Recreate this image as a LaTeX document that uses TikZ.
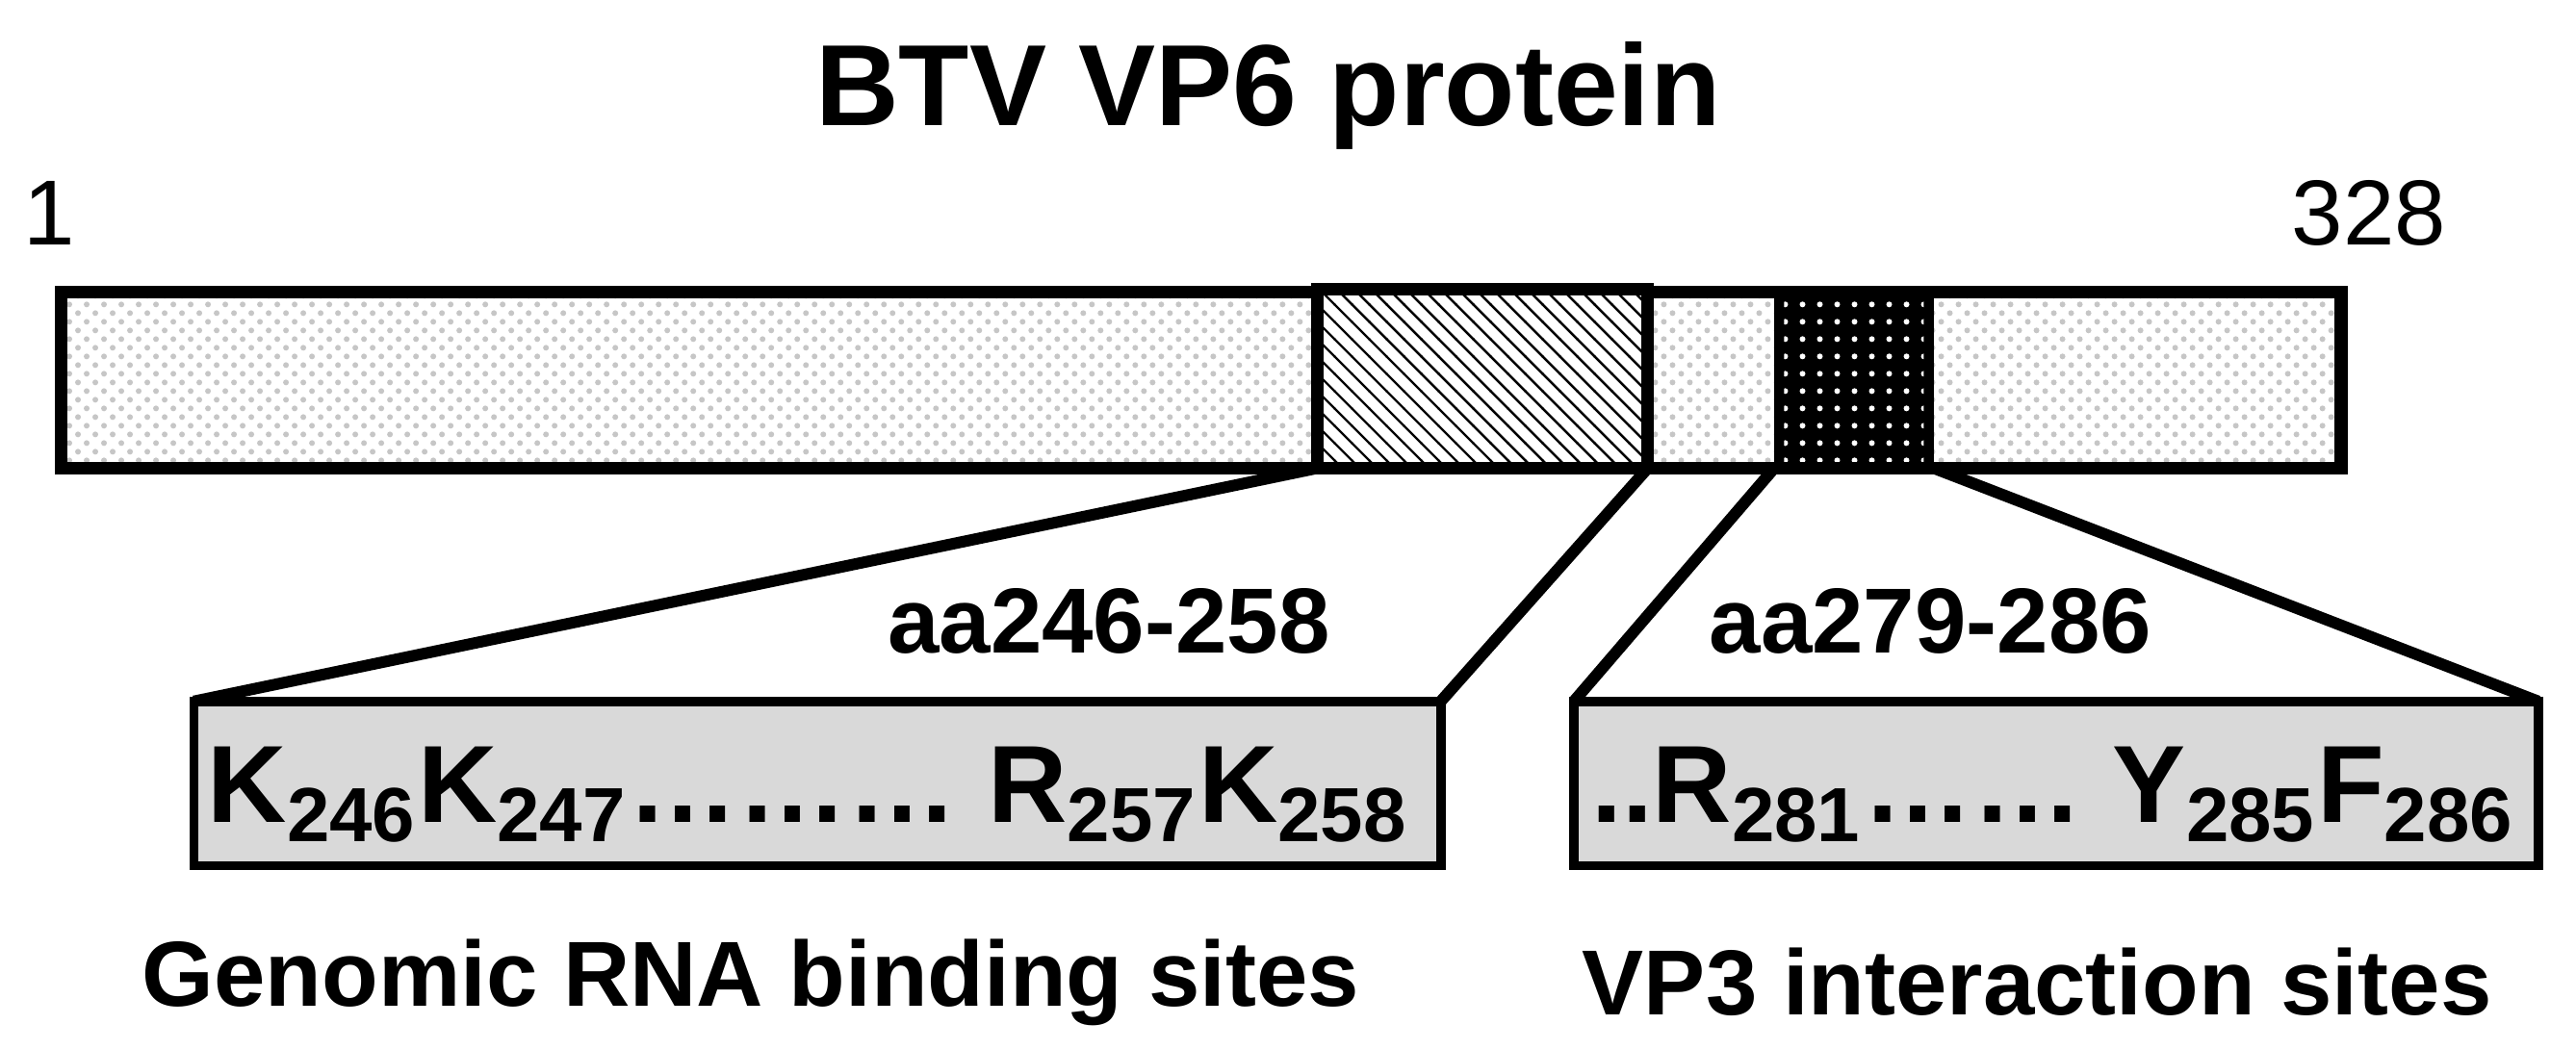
\documentclass[tikz,border=0pt]{standalone}
\usepackage{fontspec}
\setmainfont{Liberation Sans}
\usetikzlibrary{patterns}
\begin{document}
\begin{tikzpicture}[x=0.01cm,y=-0.01cm,
  bar/.style={draw=black,line width=2.2pt},
  sub/.style={draw=black,line width=1.6pt,fill=gray!30},
  lnk/.style={line width=2pt},
  lbl/.style={font=\bfseries\fontsize{16}{18}\selectfont}]
\useasboundingbox (0,0) rectangle (1568,639);
\node[font=\bfseries\fontsize{20}{24}\selectfont] (title) at (772,58) {BTV VP6 protein};
\node[font=\fontsize{16}{18}\selectfont] (n1) at (30,130) {1};
\node[font=\fontsize{16}{18}\selectfont] (n328) at (1442,130) {328};
\fill[pattern=crosshatch dots,pattern color=gray!45] (37,178) rectangle (1425,285);
\draw[bar] (37,178) rectangle (1425,285);
\fill[white] (802,176) rectangle (1003,285);
\fill[pattern=north west lines] (802,176) rectangle (1003,285);
\draw[bar] (802,176) rectangle (1003,285);
\fill[black] (1080,178) rectangle (1177,285);
\fill[pattern=dots,pattern color=white] (1086,182) rectangle (1171,281);
\coordinate (a1) at (802,285); \coordinate (a2) at (1003,285);
\coordinate (b1) at (1080,285); \coordinate (b2) at (1177,285);
\draw[sub] (118,427) rectangle (877,527);
\draw[sub] (958,427) rectangle (1545,527);
\coordinate (L1) at (118,427); \coordinate (L2) at (877,427);
\coordinate (R1) at (958,427); \coordinate (R2) at (1545,427);
\draw[lnk] (a1) -- (L1); \draw[lnk] (a2) -- (L2);
\draw[lnk] (b1) -- (R1); \draw[lnk] (b2) -- (R2);
\node[lbl] (aa1) at (675,378) {aa246-258};
\node[lbl] (aa2) at (1175,378) {aa279-286};
\node[font=\bfseries\fontsize{19}{22}\selectfont] (s1) at (492,484) {K\textsubscript{246}K\textsubscript{247}\dots\dots\dots\ R\textsubscript{257}K\textsubscript{258}};
\node[font=\bfseries\fontsize{19}{22}\selectfont] (s2) at (1250,484) {..R\textsubscript{281}\dots\dots\ Y\textsubscript{285}F\textsubscript{286}};
\node[lbl] (g1) at (457,598) {Genomic RNA binding sites};
\node[lbl] (g2) at (1240,598) {VP3 interaction sites};
\end{tikzpicture}
\end{document}
